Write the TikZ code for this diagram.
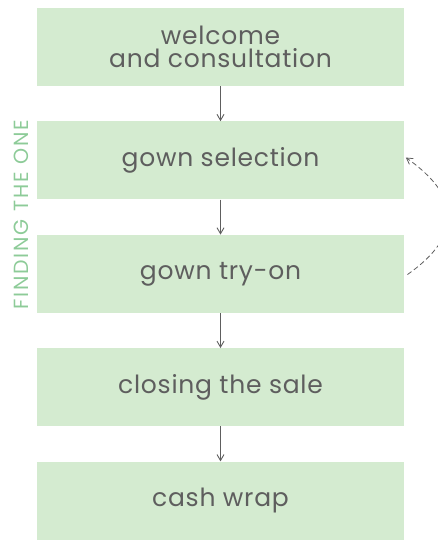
\documentclass[tikz,border=0pt]{standalone}
\usepackage{fontspec}
\setmainfont{Poppins}
\usetikzlibrary{positioning,arrows.meta}
\definecolor{boxgreen}{HTML}{D4EBD0}
\definecolor{labelgreen}{HTML}{8DCB98}
\definecolor{inkgrey}{HTML}{5E5E5E}

\begin{document}
\begin{tikzpicture}[
    x=1pt,y=1pt,
    step box/.style={%
      fill=boxgreen,
      rectangle,
      minimum width=367pt,
      minimum height=78pt,
      inner sep=0pt,
      text=inkgrey,
      font=\addfontfeatures{LetterSpace=3}\fontsize{25}{23.5}\selectfont,
      align=center,
    },
    flow/.style={%
      draw=inkgrey,
      line width=0.9pt,
      -{Straight Barb[length=6pt,width=7pt]},
    },
    node distance=35pt,
  ]
    \useasboundingbox (0,0) rectangle (438,-542);

    \node [step box] (welcome) at (220.5,-47) {welcome\\and consultation};
    \node [step box, below=of welcome] (select) {gown selection};
    \node [step box, below=of select] (tryon) {gown try-on};
    \node [step box, below=of tryon] (close) {closing the sale};
    \node [step box, below=of close] (wrap) {cash wrap};

    \node [rotate=90, text=labelgreen,
      font=\addfontfeatures{LetterSpace=9}\fontsize{20.5}{20}\selectfont]
      (finding) at (21,-215) {FINDING THE ONE};

    \draw [flow] (welcome) -- (select);
    \draw [flow] (select) -- (tryon);
    \draw [flow] (tryon) -- (close);
    \draw [flow] (close) -- (wrap);

    % loop back from try-on to selection
    \draw [flow, dash pattern=on 5pt off 3pt, line width=0.8pt,
      shorten <=4pt, shorten >=2pt]
      ([yshift=-3pt]tryon.east) to [out=35, in=-35, looseness=1.5]
      ([yshift=4pt]select.east);
\end{tikzpicture}
\end{document}
